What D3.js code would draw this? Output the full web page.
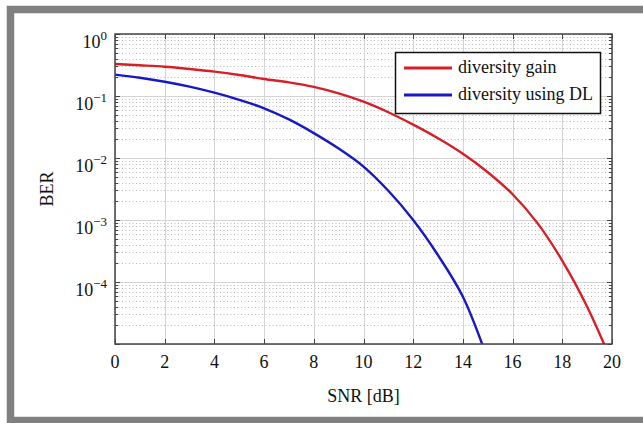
<!DOCTYPE html>
<html><head><meta charset="utf-8">
<script src="https://cdn.jsdelivr.net/npm/d3@7"></script>
<style>body{margin:0;background:#fff;}svg{display:block;}</style>
</head><body>
<svg id="chart" width="643" height="423"></svg>
<script>
const snr = [0,1,2,3,4,5,6,7,8,9,10,11,12,13,14,15,16,17,18,19,20];
const berGain = [0.328,0.313,0.297,0.273,0.247,0.218,0.188,0.166,0.140,0.110,0.081,0.0547,0.0345,0.0208,0.0117,0.0059,0.0026,0.00089,0.00022,0.00004,0.000005];
const snrDL = [0,1,2,3,4,5,6,7,8,9,10,11,12,13,14,15];
const berDL = [0.221,0.197,0.170,0.1416,0.113,0.0867,0.0634,0.0419,0.0252,0.0142,0.00728,0.00296,0.001,0.00027,0.0000578,0.0000056];
const xTicks = [0,2,4,6,8,10,12,14,16,18,20];
const yExps = [0,-1,-2,-3,-4];
const seriesNames = ["diversity gain","diversity using DL"];
const seriesColors = ["#d81e27","#1818c4"];

const svg = d3.select("#chart");
const FONT = '"Liberation Serif"';

// outer frame
svg.append("rect").attr("x",10.5).attr("y",9.5).attr("width",640).attr("height",411)
  .attr("fill","#fff").attr("stroke","#808080").attr("stroke-width",7.5);

const L=115,R=612,T=34,B=344;
const x = d3.scaleLinear().domain([0,20]).range([L,R]);
const y = d3.scaleLog().domain([1e-5,1]).range([B,T]);

const g = svg.append("g");
// minor y grid (dotted)
const minor=[];
for(let d=-5;d<0;d++) for(let k=2;k<=9;k++) minor.push(k*Math.pow(10,d));
g.selectAll(".mg").data(minor).join("line")
  .attr("x1",L).attr("x2",R).attr("y1",d=>Math.round(y(d))+0.5).attr("y2",d=>Math.round(y(d))+0.5)
  .attr("stroke","#b8b8b8").attr("stroke-width",1).attr("stroke-dasharray","1,2.5");
// major grid
g.selectAll(".gx").data(xTicks).join("line")
  .attr("x1",d=>Math.round(x(d))+0.5).attr("x2",d=>Math.round(x(d))+0.5).attr("y1",T).attr("y2",B)
  .attr("stroke","#d4d4d4").attr("stroke-width",1);
g.selectAll(".gy").data(yExps.concat([-5])).join("line")
  .attr("x1",L).attr("x2",R).attr("y1",d=>Math.round(y(Math.pow(10,d)))+0.5).attr("y2",d=>Math.round(y(Math.pow(10,d)))+0.5)
  .attr("stroke","#d4d4d4").attr("stroke-width",1);

// curves
svg.append("clipPath").attr("id","clip").append("rect").attr("x",L).attr("y",T).attr("width",R-L).attr("height",B-T);
const line = d3.line().curve(d3.curveCatmullRom.alpha(0.5)).x(d=>x(d[0])).y(d=>y(d[1]));
const cg = svg.append("g").attr("clip-path","url(#clip)");
cg.append("path").datum(snr.map((s,i)=>[s,berGain[i]])).attr("d",line)
  .attr("fill","none").attr("stroke",seriesColors[0]).attr("stroke-width",2.4);
cg.append("path").datum(snrDL.map((s,i)=>[s,berDL[i]])).attr("d",line)
  .attr("fill","none").attr("stroke",seriesColors[1]).attr("stroke-width",2.4);

// axes box & ticks
const axc="#444";
const tk = svg.append("g").attr("stroke",axc).attr("stroke-width",1);
xTicks.forEach(t=>{
  const px=Math.round(x(t))+0.5;
  tk.append("line").attr("x1",px).attr("x2",px).attr("y1",B).attr("y2",B-5);
  tk.append("line").attr("x1",px).attr("x2",px).attr("y1",T).attr("y2",T+5);
});
yExps.concat([-5]).forEach(e=>{
  const py=Math.round(y(Math.pow(10,e)))+0.5;
  tk.append("line").attr("x1",L).attr("x2",L+5).attr("y1",py).attr("y2",py);
  tk.append("line").attr("x1",R).attr("x2",R-5).attr("y1",py).attr("y2",py);
});
minor.forEach(v=>{
  const py=Math.round(y(v))+0.5;
  tk.append("line").attr("x1",L).attr("x2",L+3).attr("y1",py).attr("y2",py);
  tk.append("line").attr("x1",R).attr("x2",R-3).attr("y1",py).attr("y2",py);
});
svg.append("rect").attr("x",L).attr("y",T).attr("width",R-L).attr("height",B-T)
  .attr("fill","none").attr("stroke",axc).attr("stroke-width",1.5);

// x tick labels
svg.append("g").selectAll("text").data(xTicks).join("text")
  .attr("x",d=>x(d)).attr("y",368).attr("text-anchor","middle")
  .style("font-family",FONT).attr("font-size",18).attr("fill","#111").text(d=>d);
// y tick labels
yExps.forEach(e=>{
  const py=y(Math.pow(10,e));
  const t=svg.append("text").attr("x",107).attr("y",py+14).attr("text-anchor","end")
    .style("font-family",FONT).attr("font-size",18).attr("fill","#111");
  t.append("tspan").text("10");
  t.append("tspan").attr("dy",-8).attr("font-size",13).text(e===0?"0":"\u2212"+(-e));
});
// axis titles
svg.append("text").attr("x",(L+R)/2).attr("y",402).attr("text-anchor","middle")
  .style("font-family",FONT).attr("font-size",18).attr("fill","#111").text("SNR [dB]");
svg.append("text").attr("transform",`translate(53,${(T+B)/2}) rotate(-90)`).attr("text-anchor","middle")
  .style("font-family",FONT).attr("font-size",18).attr("fill","#111").text("BER");

// legend
const lg = svg.append("g");
lg.append("rect").attr("x",395.5).attr("y",52.5).attr("width",205).attr("height",61)
  .attr("fill","#fff").attr("stroke","#111").attr("stroke-width",1.5);
seriesNames.forEach((n,i)=>{
  const ly=68+i*27;
  lg.append("line").attr("x1",404).attr("x2",452).attr("y1",ly).attr("y2",ly)
    .attr("stroke",seriesColors[i]).attr("stroke-width",2.8);
  lg.append("text").attr("x",458).attr("y",ly+5)
    .style("font-family",FONT).attr("font-size",18).attr("fill","#111").text(n);
});
</script>
</body></html>
